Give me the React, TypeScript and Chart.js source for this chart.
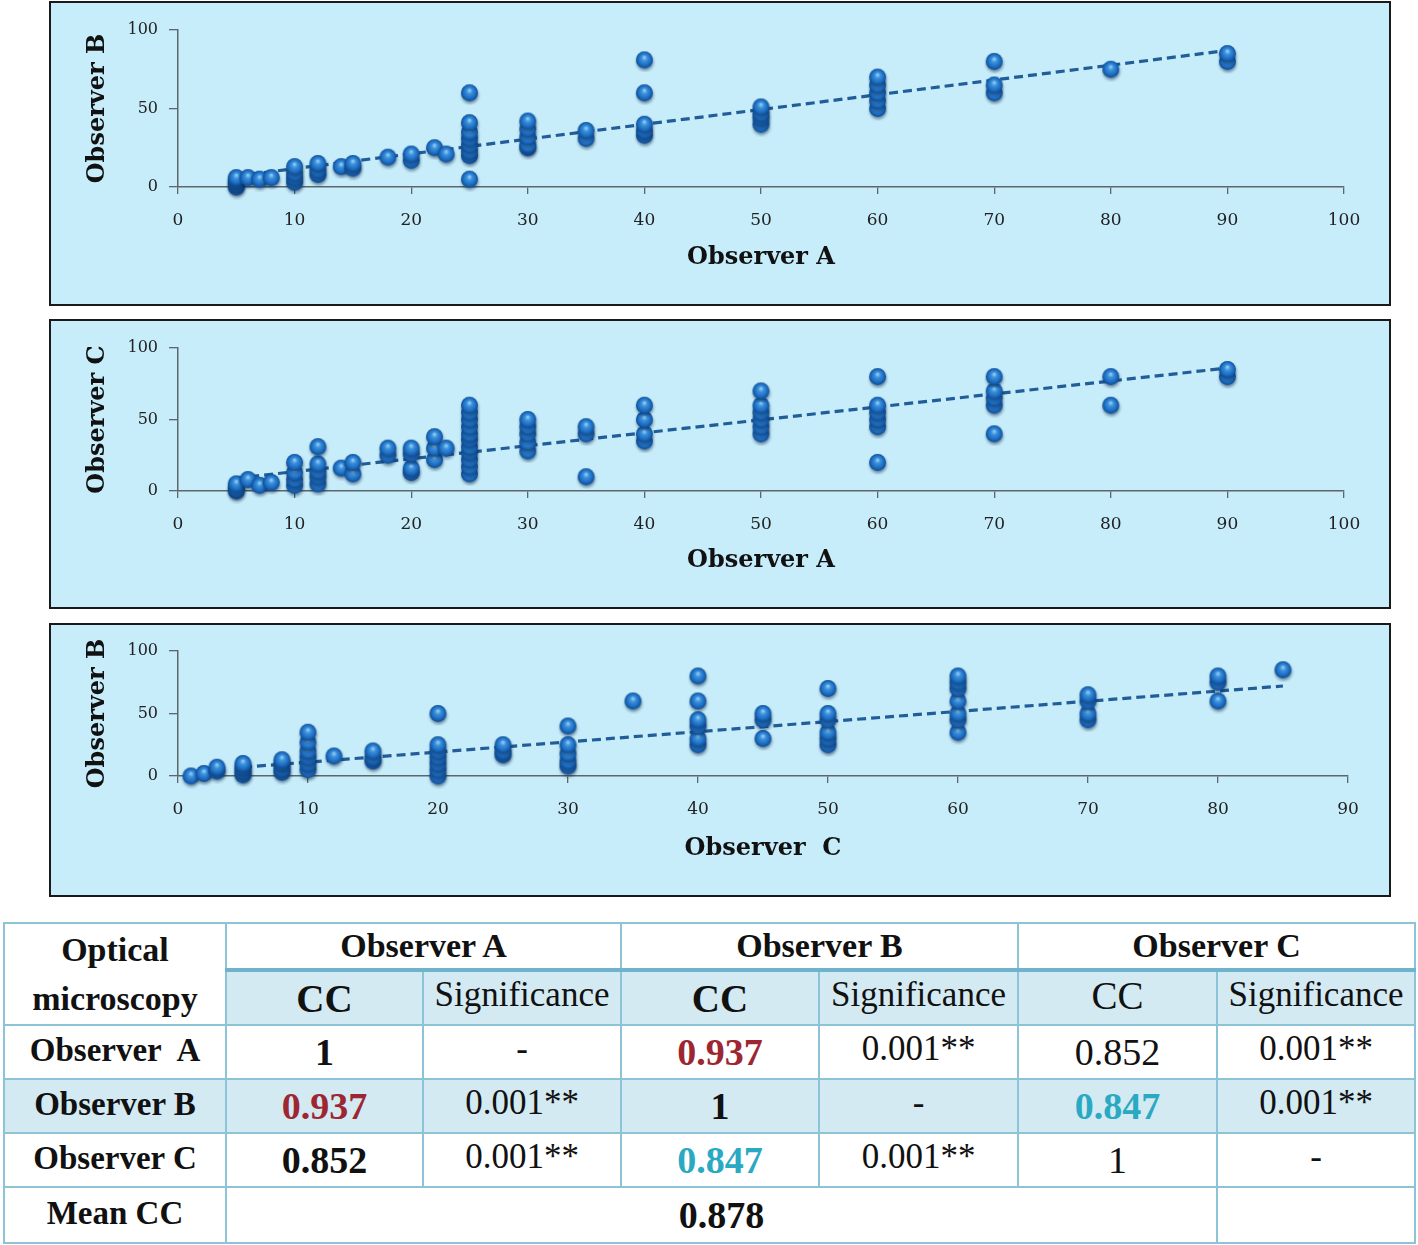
import React, { useEffect, useRef } from 'react';
import { Chart, registerables } from 'chart.js';

Chart.register(...registerables);

// ---------- Panel 1: Observer A (x) vs Observer B (y) ----------
const abX = [5, 5, 5, 5, 6, 7, 8, 10, 10, 10, 10, 12, 12, 12, 14, 15, 15, 18, 20, 20, 22, 23,
  25, 25, 25, 25, 25, 25, 25, 25, 30, 30, 30, 30, 30, 35, 35, 40, 40, 40, 40, 40,
  50, 50, 50, 50, 60, 60, 60, 60, 60, 70, 70, 70, 80, 90, 90];
const abY = [0, 2, 4, 6, 6, 5, 6, 3, 6, 9, 13, 8, 11, 15, 13, 12, 15, 19, 17, 21, 25, 21,
  5, 20, 23, 27, 31, 35, 41, 60, 25, 27, 32, 37, 42, 31, 36, 33, 36, 40, 60, 81,
  40, 44, 47, 51, 50, 55, 60, 65, 70, 60, 65, 80, 75, 80, 85];
const abTrendX = [5, 90];
const abTrendY = [7, 87];

// ---------- Panel 2: Observer A (x) vs Observer C (y) ----------
const acX = [5, 5, 5, 6, 7, 8, 10, 10, 10, 10, 12, 12, 12, 12, 12, 14, 15, 15, 18, 18, 20, 20, 20, 20,
  22, 22, 22, 23, 25, 25, 25, 25, 25, 25, 25, 25, 25, 25, 25, 30, 30, 30, 30, 30, 35, 35, 35,
  40, 40, 40, 40, 50, 50, 50, 50, 50, 50, 60, 60, 60, 60, 60, 60, 70, 70, 70, 70, 70, 80, 80, 90, 90];
const acY = [0, 2, 5, 8, 4, 6, 4, 8, 13, 20, 5, 10, 14, 19, 31, 16, 12, 20, 25, 30, 13, 16, 26, 30,
  22, 30, 38, 30, 12, 17, 22, 27, 31, 36, 40, 45, 50, 55, 60, 28, 34, 40, 45, 50, 10, 40, 45,
  35, 40, 50, 60, 40, 45, 50, 55, 60, 70, 20, 45, 50, 55, 60, 80, 40, 60, 65, 70, 80, 60, 80, 80, 85];
const acTrendX = [5, 90];
const acTrendY = [9, 86];

// ---------- Panel 3: Observer C (x) vs Observer B (y) ----------
const cbX = [1, 2, 3, 3, 5, 5, 5, 5, 8, 8, 8, 8, 10, 10, 10, 10, 10, 10, 12, 15, 15, 15,
  20, 20, 20, 20, 20, 20, 20, 25, 25, 25, 30, 30, 30, 30, 30, 35,
  40, 40, 40, 40, 40, 40, 45, 45, 45, 50, 50, 50, 50, 50, 50,
  60, 60, 60, 60, 60, 60, 60, 70, 70, 70, 70, 80, 80, 80, 85];
const cbY = [0, 2, 4, 7, 1, 4, 7, 10, 3, 6, 10, 13, 5, 10, 15, 20, 27, 35, 16, 12, 15, 20,
  0, 5, 10, 15, 20, 25, 50, 17, 20, 25, 8, 12, 18, 25, 40, 60,
  25, 30, 40, 45, 60, 80, 30, 45, 50, 25, 30, 35, 45, 50, 70,
  35, 45, 50, 60, 70, 75, 80, 45, 50, 60, 65, 60, 75, 80, 85];
const cbTrendX = [5, 85];
const cbTrendY = [7, 72];

// ---------- Table ----------
const observers = ['Observer A', 'Observer B', 'Observer C'];
const rowLabels = ['Observer\u00a0 A', 'Observer B', 'Observer C'];
const ccRows = [
  ['1', '0.937', '0.852'],
  ['0.937', '1', '0.847'],
  ['0.852', '0.847', '1'],
];
const sigRows = [
  ['-', '0.001**', '0.001**'],
  ['0.001**', '-', '0.001**'],
  ['0.001**', '0.001**', '-'],
];
const meanCC = '0.878';

const BG = '#c7edfa';
const AXIS = '#5d666b';
const FONT = "'DejaVu Serif', serif";

function makeSphere(r: number): HTMLCanvasElement {
  const size = 2 * r + 8;
  const s = document.createElement('canvas');
  s.width = size;
  s.height = size;
  const c = s.getContext('2d')!;
  const cx = size / 2;
  const cy = size / 2;
  c.save();
  c.filter = 'blur(1.5px)';
  c.fillStyle = 'rgba(5,30,70,0.5)';
  c.beginPath();
  c.arc(cx + 0.5, cy + 2.2, r, 0, Math.PI * 2);
  c.fill();
  c.restore();
  const g = c.createRadialGradient(cx, cy - 2.5, 0.5, cx, cy, r);
  g.addColorStop(0, '#8fcaf4');
  g.addColorStop(0.3, '#3b90da');
  g.addColorStop(0.7, '#1d6ec4');
  g.addColorStop(1, '#0f4c90');
  c.fillStyle = g;
  c.beginPath();
  c.arc(cx, cy, r, 0, Math.PI * 2);
  c.fill();
  return s;
}

type PanelProps = {
  xs: number[];
  ys: number[];
  tx: number[];
  ty: number[];
  xMax: number;
  xTitle: string;
  yTitle: string;
  top: number;
  height: number; // outer height
  plotTop: number; // y of value 100 (page coords)
  plotBottom: number; // y of value 0 (page coords)
  plotRight: number; // x of xMax (page coords)
};

const PANEL_LEFT = 49;
const PANEL_W = 1342;
const BORDER = 2;
const PLOT_LEFT = 178;

function Panel(p: PanelProps) {
  const ref = useRef<HTMLCanvasElement>(null);
  const innerW = PANEL_W - 2 * BORDER;
  const innerH = p.height - 2 * BORDER;
  const innerLeft = PANEL_LEFT + BORDER;
  const innerTop = p.top + BORDER;
  useEffect(() => {
    const sphere = makeSphere(8.5);
    const padTop = p.plotTop - innerTop;
    const yW = PLOT_LEFT - innerLeft;
    const padRight = innerLeft + innerW - p.plotRight;
    const xH = innerTop + innerH - p.plotBottom;
    const chart = new Chart(ref.current!, {
      type: 'scatter',
      data: {
        datasets: [
          {
            type: 'scatter',
            data: p.xs.map((x, i) => ({ x, y: p.ys[i] })),
            pointStyle: sphere,
            pointRadius: 8,
            order: 1,
            clip: false,
          } as any,
          {
            type: 'line',
            data: p.tx.map((x, i) => ({ x, y: p.ty[i] })),
            borderColor: '#215d99',
            borderWidth: 3.2,
            borderDash: [9, 5],
            pointRadius: 0,
            fill: false,
            order: 2,
            clip: false,
          } as any,
        ],
      },
      options: {
        animation: false,
        responsive: false,
        maintainAspectRatio: false,
        devicePixelRatio: 1,
        events: [],
        layout: { padding: { top: padTop, right: padRight, left: 0, bottom: 0 } },
        plugins: { legend: { display: false }, tooltip: { enabled: false } },
        scales: {
          x: {
            type: 'linear',
            min: 0,
            max: p.xMax,
            afterFit: (s: any) => { s.height = xH; },
            ticks: { stepSize: 10, padding: 16, color: '#222', font: { family: FONT, size: 17 } },
            grid: { drawOnChartArea: false, drawTicks: true, tickLength: 7, color: AXIS, lineWidth: 1.3 },
            border: { display: true, color: AXIS, width: 1.5 },
            title: {
              display: true,
              text: p.xTitle,
              color: '#111',
              font: { family: FONT, size: 24, weight: 'bold' },
              padding: { top: 0, bottom: 32 },
            },
          },
          y: {
            type: 'linear',
            min: 0,
            max: 100,
            afterFit: (s: any) => { s.width = yW; },
            ticks: { stepSize: 50, padding: 11, color: '#222', font: { family: FONT, size: 16 } },
            grid: { drawOnChartArea: false, drawTicks: true, tickLength: 9, color: AXIS, lineWidth: 1.3 },
            border: { display: true, color: AXIS, width: 1.5 },
            title: {
              display: true,
              text: p.yTitle,
              color: '#111',
              font: { family: FONT, size: 24, weight: 'bold' },
              padding: { top: 32, bottom: 0 },
            },
          },
        },
      } as any,
    });
    return () => chart.destroy();
  }, []);
  return (
    <div
      style={{
        position: 'absolute',
        left: PANEL_LEFT,
        top: p.top,
        width: PANEL_W,
        height: p.height,
        boxSizing: 'border-box',
        border: `${BORDER}px solid #1a1a1a`,
        background: BG,
      }}
    >
      <canvas ref={ref} width={innerW} height={innerH} style={{ display: 'block', width: innerW, height: innerH }} />
    </div>
  );
}

const RED = '#9c2733';
const TEAL = '#2aa9c3';
const LINE = '#8cc3d6';
const BAND = '#d4eaf3';
const TFONT = "'Liberation Serif', 'Times New Roman', serif";

function ccStyle(v: string, col: number): React.CSSProperties {
  if (v === '0.937') return { color: RED, fontWeight: 'bold' };
  if (v === '0.847') return { color: TEAL, fontWeight: 'bold' };
  return { color: '#111', fontWeight: col < 2 ? 'bold' : 'normal' };
}

function Table() {
  const colW = [222, 197, 198, 198, 199, 199, 198];
  const rowH = [47, 55, 54, 54, 54, 56];
  const cell: React.CSSProperties = {
    border: `2px solid ${LINE}`,
    textAlign: 'center',
    verticalAlign: 'middle',
    padding: 0,
    fontFamily: TFONT,
    color: '#111',
    overflow: 'hidden',
    whiteSpace: 'nowrap',
  };
  const head: React.CSSProperties = { ...cell, fontSize: 34, fontWeight: 'bold' };
  const num: React.CSSProperties = { ...cell, fontSize: 38 };
  const sig: React.CSSProperties = { ...cell, fontSize: 35, paddingBottom: 6 };
  return (
    <table
      style={{
        position: 'absolute',
        left: 3,
        top: 922,
        width: 1411,
        borderCollapse: 'collapse',
        tableLayout: 'fixed',
      }}
    >
      <colgroup>
        {colW.map((w, i) => (
          <col key={i} style={{ width: w }} />
        ))}
      </colgroup>
      <tbody>
        <tr style={{ height: rowH[0] }}>
          <td rowSpan={2} style={{ ...head, lineHeight: '49px', background: '#fff' }}>
            Optical
            <br />
            microscopy
          </td>
          {observers.map((o) => (
            <td key={o} colSpan={2} style={{ ...head, background: '#fff', borderBottom: `4px solid #6fb2cb` }}>
              {o}
            </td>
          ))}
        </tr>
        <tr style={{ height: rowH[1], background: BAND }}>
          {observers.map((o, i) => (
            <React.Fragment key={o}>
              <td style={{ ...cell, fontSize: 39, fontWeight: i < 2 ? 'bold' : 'normal', background: BAND, paddingBottom: i < 2 ? 0 : 6 }}>CC</td>
              <td style={{ ...cell, fontSize: 35, paddingBottom: 6, background: BAND }}>Significance</td>
            </React.Fragment>
          ))}
        </tr>
        {rowLabels.map((lab, r) => (
          <tr key={lab} style={{ height: rowH[2 + r], background: r === 1 ? BAND : '#fff' }}>
            <td style={{ ...head, fontSize: 33, paddingBottom: 4 }}>{lab}</td>
            {ccRows[r].map((v, c) => (
              <React.Fragment key={c}>
                <td style={{ ...num, ...ccStyle(v, c) }}>{v}</td>
                <td style={sig}>{sigRows[r][c]}</td>
              </React.Fragment>
            ))}
          </tr>
        ))}
        <tr style={{ height: rowH[5], background: '#fff' }}>
          <td style={{ ...head, fontSize: 33, paddingBottom: 4 }}>Mean CC</td>
          <td colSpan={5} style={{ ...num, fontWeight: 'bold' }}>{meanCC}</td>
          <td style={cell}></td>
        </tr>
      </tbody>
    </table>
  );
}

export default function App() {
  return (
    <div style={{ position: 'absolute', left: 0, top: 0, width: 1418, height: 1245, background: '#fff', overflow: 'hidden' }}>
      <Panel xs={abX} ys={abY} tx={abTrendX} ty={abTrendY} xMax={100} xTitle="Observer A" yTitle="Observer B"
        top={1} height={305} plotTop={30} plotBottom={187} plotRight={1344} />
      <Panel xs={acX} ys={acY} tx={acTrendX} ty={acTrendY} xMax={100} xTitle="Observer A" yTitle="Observer C"
        top={319} height={290} plotTop={348} plotBottom={491} plotRight={1344} />
      <Panel xs={cbX} ys={cbY} tx={cbTrendX} ty={cbTrendY} xMax={90} xTitle="Observer  C" yTitle="Observer B"
        top={623} height={274} plotTop={651} plotBottom={776} plotRight={1348} />
      <Table />
    </div>
  );
}
